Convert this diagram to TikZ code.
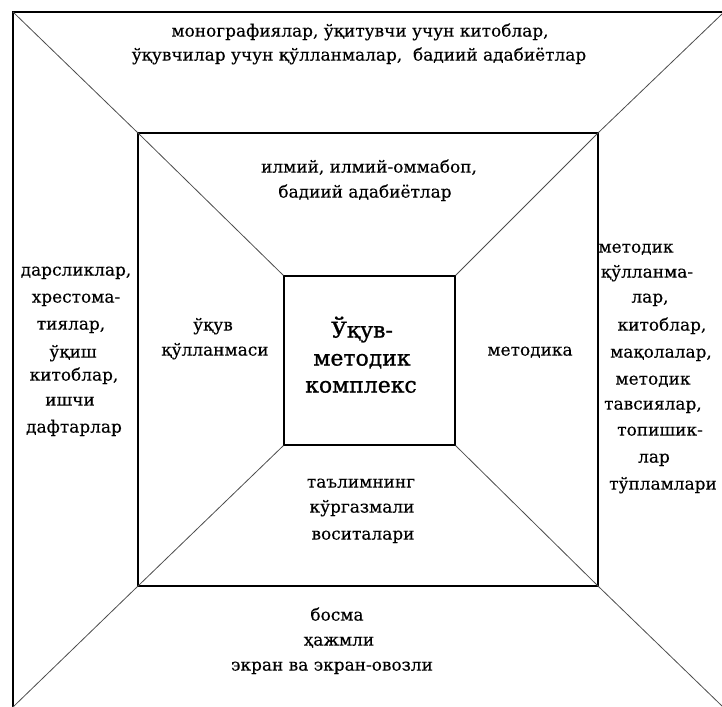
\documentclass[tikz,border=0pt]{standalone}
\usepackage{fontspec}
\setmainfont{DejaVu Serif}[FakeBold=0.3]
\newfontfamily\centerfont{DejaVu Serif}[FakeBold=1.0]
\begin{document}
\begin{tikzpicture}[x=1bp,y=-1bp,
  frame/.style={line width=1.1bp,black},
  diag/.style={line width=0.8bp,black!70},
  ln/.style={inner sep=0pt,anchor=mid,font=\fontsize{17}{22}\selectfont},
  bigln/.style={inner sep=0pt,anchor=mid,font=\centerfont\fontsize{22}{26}\selectfont}]
\useasboundingbox (0,0) rectangle (722,707);
% corners
\coordinate (otl) at (13,12);
\coordinate (otr) at (722,14);
\coordinate (obl) at (13,707);
\coordinate (obr) at (722,706);
\coordinate (oend) at (722,12);
\node[frame,draw,minimum width=460bp,minimum height=453bp,inner sep=0pt] (mid) at (368,359.5) {};
\node[frame,draw,minimum width=171bp,minimum height=169bp,inner sep=0pt] (inner) at (369.5,360.5) {};
\draw[frame] (obl) -- (otl) -- (oend);
\draw[diag] (otl) -- (mid.north west);
\draw[diag] (otr) -- (mid.north east);
\draw[diag] (obl) -- (mid.south west);
\draw[diag] (obr) -- (mid.south east);
\draw[diag] (mid.north west) -- (inner.north west);
\draw[diag] (mid.north east) -- (inner.north east);
\draw[diag] (mid.south west) -- (inner.south west);
\draw[diag] (mid.south east) -- (inner.south east);
% top
\node[ln] (t1) at (360,34) {монографиялар, ўқитувчи учун китоблар,};
\node[ln] (t2) at (359,58) {ўқувчилар учун қўлланмалар,\ \ бадиий адабиётлар};
% middle top
\node[ln] (m1) at (369,170) {илмий, илмий-оммабоп,};
\node[ln] (m2) at (365,195) {бадиий адабиётлар};
% left middle
\node[ln] (l1) at (213,328) {ўқув};
\node[ln] (l2) at (215,353) {қўлланмаси};
% center
\node[bigln] (c1) at (362,335) {Ўқув-};
\node[bigln] (c2) at (362,363) {методик};
\node[bigln] (c3) at (361,390) {комплекс};
% right middle
\node[ln] (rm) at (530,353) {методика};
% bottom middle
\node[ln] (b1) at (361,485) {таълимнинг};
\node[ln] (b2) at (362,510) {кўргазмали};
\node[ln] (b3) at (363,537) {воситалари};
% bottom outer
\node[ln] (o1) at (337,618) {босма};
\node[ln] (o2) at (339,643) {ҳажмли};
\node[ln] (o3) at (332,668) {экран ва экран-овозли};
% left column
\node[ln] (L1) at (76,273) {дарсликлар,};
\node[ln] (L2) at (76,300) {хрестома-};
\node[ln] (L3) at (71,327) {тиялар,};
\node[ln] (L4) at (73,355) {ўқиш};
\node[ln] (L5) at (74,378) {китоблар,};
\node[ln] (L6) at (70,403) {ишчи};
\node[ln] (L7) at (74,430) {дафтарлар};
% right column
\node[ln] (R1) at (636,250) {методик};
\node[ln] (R2) at (647,275) {қўлланма-};
\node[ln] (R3) at (650,300) {лар,};
\node[ln] (R4) at (662,328) {китоблар,};
\node[ln] (R5) at (661,355) {мақолалар,};
\node[ln] (R6) at (653,382) {методик};
\node[ln] (R7) at (653,407) {тавсиялар,};
\node[ln] (R8) at (660,433) {топишик-};
\node[ln] (R9) at (654,460) {лар};
\node[ln] (R10) at (663,487) {тўпламлари};
\end{tikzpicture}
\end{document}
